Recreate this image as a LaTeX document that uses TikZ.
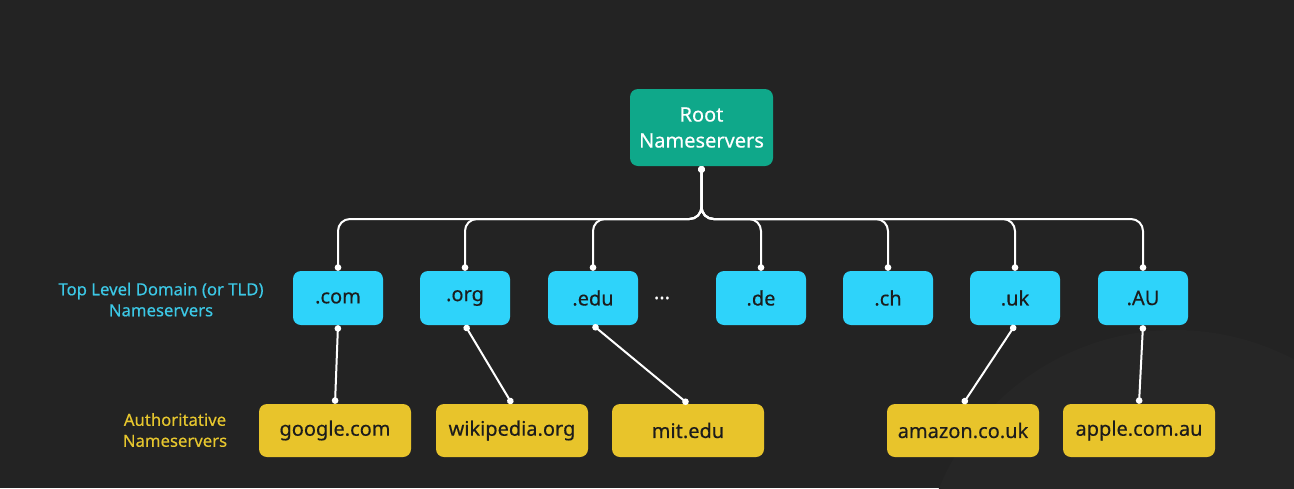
\documentclass[tikz,border=0pt]{standalone}
\usepackage{fontspec}
\setmainfont{Noto Sans}[FakeBold=0.35,UprightFeatures={FakeBold=0.35}]
\usepackage{tikz}
\usetikzlibrary{calc,arrows.meta}

\definecolor{bgdark}{HTML}{232323}
\definecolor{bgglow}{HTML}{262626}
\definecolor{rootgreen}{HTML}{0FA88A}
\definecolor{tldcyan}{HTML}{2ED3FA}
\definecolor{authyellow}{HTML}{E8C42B}
\definecolor{boxtext}{HTML}{1C1C1C}
\definecolor{tldlabel}{HTML}{3CC8E6}
\definecolor{authlabel}{HTML}{E6C62E}

\begin{document}
\begin{tikzpicture}[x=1pt,y=-1pt,
  rootbox/.style={rectangle,rounded corners=8pt,fill=rootgreen,text=white,align=center,inner sep=0pt,minimum width=143pt,minimum height=77pt,font=\fontsize{20}{26}\selectfont},
  tldbox/.style={rectangle,rounded corners=8pt,fill=tldcyan,text=boxtext,inner sep=0pt,minimum width=90pt,minimum height=54pt,font=\fontsize{20}{24}\selectfont},
  authbox/.style={rectangle,rounded corners=8pt,fill=authyellow,text=boxtext,inner sep=0pt,minimum width=152pt,minimum height=53pt,font=\fontsize{20}{24}\selectfont},
  levellabel/.style={align=center,font=\fontsize{16.7}{21}\selectfont},
  link/.style={draw=white,line width=2pt,{Circle[length=6.5pt]}-{Circle[length=6.5pt]}},
  buslink/.style={link,rounded corners=12pt}]

\useasboundingbox (0,0) rectangle (1294,488);
\fill[bgdark] (0,0) rectangle (1294,488);
\begin{scope}
\clip (0,0) rectangle (1294,488);
\fill[bgglow] (1175,585) circle (255);
\end{scope}

% root
\path (701.5,127.5) node[rootbox] (root) {Root\\Nameservers};
\coordinate (bus) at (701.5,219);

% top level domains
\path (338,298) node[tldbox] (com) {.com};
\path (465,298) node[tldbox] (org) {.org};
\path (593,298) node[tldbox] (edu) {.edu};
\path (662,298) node[text=white,font=\fontsize{20}{24}\selectfont] (more) {...};
\path (761,298) node[tldbox] (de) {.de};
\path (888,298) node[tldbox] (ch) {.ch};
\path (1015,298) node[tldbox] (uk) {.uk};
\path (1143,298) node[tldbox] (au) {.AU};

% authoritative
\path (335,430.5) node[authbox] (google) {google.com};
\path (512,430.5) node[authbox] (wikipedia) {wikipedia.org};
\path (688,430.5) node[authbox] (mit) {mit.edu};
\path (963,430.5) node[authbox] (amazon) {amazon.co.uk};
\path (1139,430.5) node[authbox] (apple) {apple.com.au};

% level labels
\path (161,299.5) node[levellabel,text=tldlabel] (tldlabel) {Top Level Domain (or TLD)\\Nameservers};
\path (175,430) node[levellabel,text=authlabel] (authtext) {Authoritative\\Nameservers};

% root to tld
\foreach \n in {com,org,edu,de,ch,uk,au}
  \draw[buslink] (root.south) -- (bus) -| (\n.north);

% tld to authoritative
\draw[link] (com.south) -- (google.north);
\draw[link] (org.south) -- (wikipedia.north);
\draw[link] (edu.south) -- (mit.north);
\draw[link] (uk.south) -- (amazon.north);
\draw[link] (au.south) -- (apple.north);

\end{tikzpicture}
\end{document}
